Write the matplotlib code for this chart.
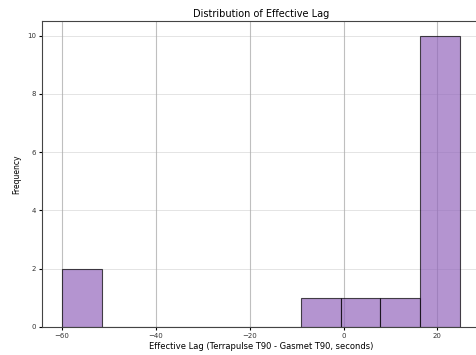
import matplotlib.pyplot as plt

# --- Effective lag values (Terrapulse T90 - Gasmet T90, seconds) ---
lags = [-60.0, -57.0,
        -6.0, 2.5, 11.0,
        17.0, 18.0, 19.0, 20.0, 20.5, 21.0, 22.0, 22.5, 23.5, 24.8]
n_bins = 10

fig = plt.figure(figsize=(4.77, 3.55), dpi=100)
ax = fig.add_axes([0.088, 0.079, 0.918, 0.862])

ax.hist(lags, bins=n_bins, color='tab:purple', alpha=0.7, edgecolor='black', linewidth=0.8)

ax.set_title("Distribution of Effective Lag", fontsize=7, pad=3)
ax.set_xlabel("Effective Lag (Terrapulse T90 - Gasmet T90, seconds)", fontsize=6, labelpad=2)
ax.set_ylabel("Frequency", fontsize=5.5, labelpad=4)
ax.tick_params(labelsize=5, length=2.5, pad=2, labelcolor='#333333')
ax.set_yticks([0, 2, 4, 6, 8, 10])
ax.grid(True, axis='x', alpha=0.8, linewidth=0.8)
ax.grid(True, axis='y', alpha=0.35, linewidth=0.7)
ax.set_axisbelow(True)
for s in ax.spines.values():
    s.set_color('#444444')

plt.savefig("out.png", dpi=100)
